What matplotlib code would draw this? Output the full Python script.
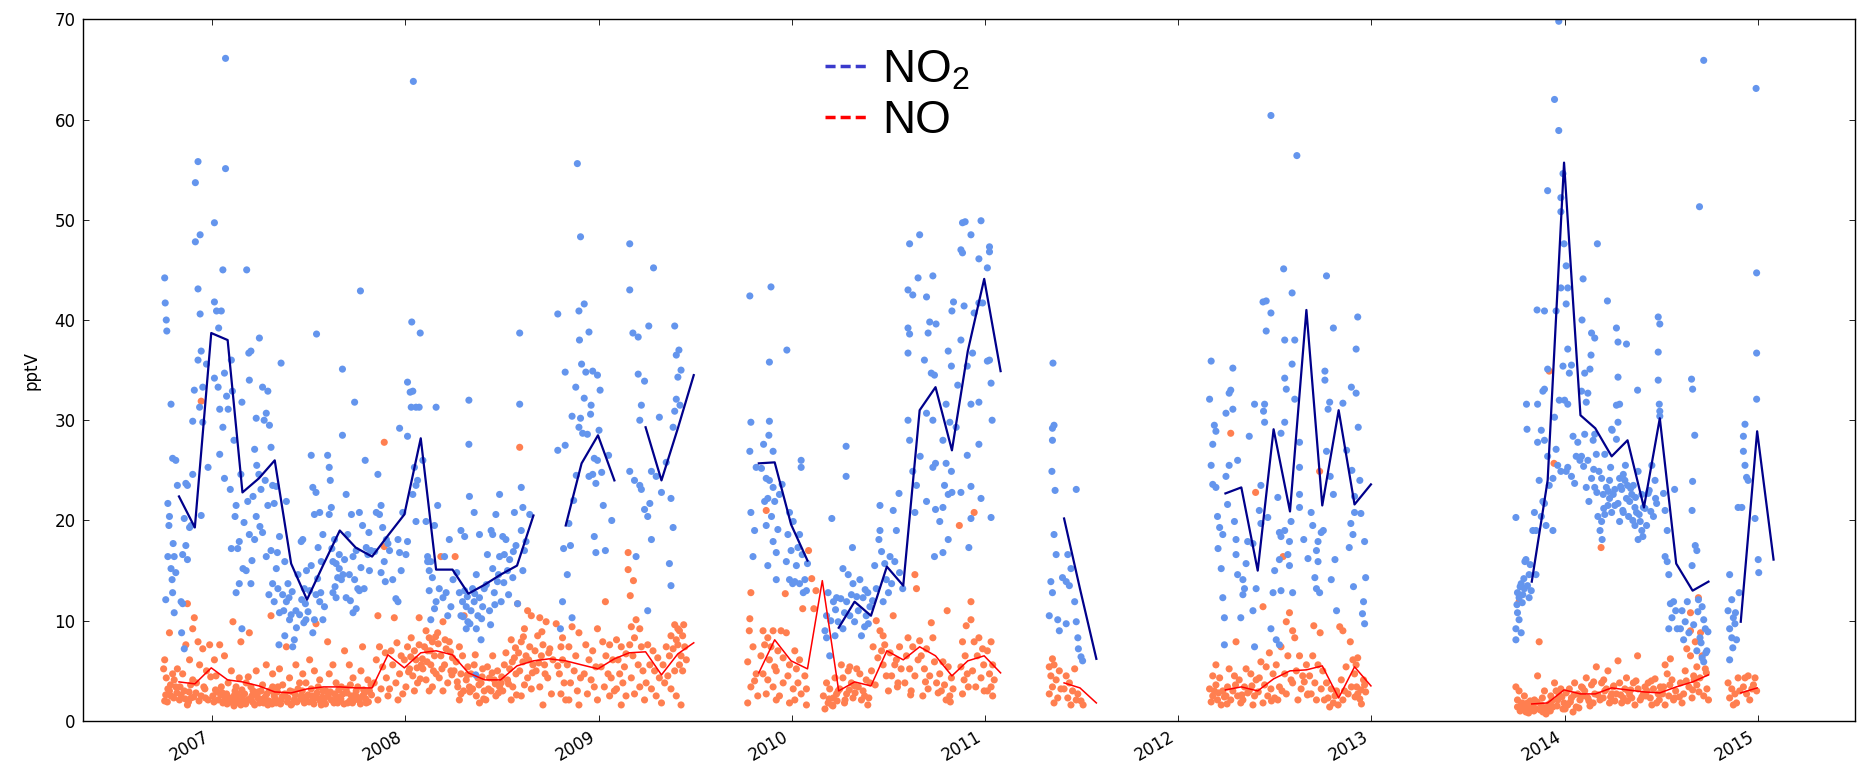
import numpy as np
import pandas as pd
import matplotlib
matplotlib.use('Agg')
import matplotlib.pyplot as plt
import matplotlib.dates as mdates
from matplotlib.lines import Line2D

nan = np.nan

#%% monthly means (plotted at month end), Oct 2006 .. Jan 2015
months = pd.date_range('2006-10-31', '2015-01-31', freq=pd.offsets.MonthEnd())

no2_monthly = [
    22.4, 19.3, 38.7,                                                        # 2006 Oct-Dec
    38.0, 22.8, 24.2, 26.0, 15.7, 12.1, 15.6, 19.0, 17.3, 16.4, 18.5, 20.6,  # 2007
    28.2, 15.1, 15.1, 12.7, 13.6, 14.6, 15.5, 20.5, nan, 19.5, 25.7, 28.5,   # 2008
    24.0, nan, 29.3, 24.0, 29.2, 34.5, nan, nan, nan, 25.7, 25.8, 19.6,      # 2009
    16.0, nan, 9.3, 11.9, 10.5, 15.4, 13.5, 31.0, 33.3, 27.0, 36.9, 44.1,    # 2010
    34.9, nan, nan, nan, 20.2, 13.2, 6.2, nan, nan, nan, nan, nan,           # 2011
    nan, nan, 22.7, 23.3, 15.0, 29.1, 20.9, 41.0, 21.5, 31.0, 21.6, 23.6,    # 2012
    nan, nan, nan, nan, nan, nan, nan, nan, nan, 13.9, 24.0, 55.7,           # 2013
    30.5, 29.2, 26.4, 28.0, 21.3, 30.2, 15.7, 13.0, 13.9, nan, 9.9, 28.9,    # 2014
    16.1,                                                                    # 2015 Jan
]

no_monthly = [
    3.9, 3.7, 5.3,
    4.1, 3.9, 3.5, 2.9, 2.8, 3.2, 3.4, 3.4, 3.3, 3.3, 6.6, 5.3,
    6.8, 7.0, 6.6, 4.8, 4.1, 4.1, 5.5, 6.0, 6.2, 6.0, 5.6, 5.2,
    6.2, 6.8, 6.9, 4.6, 6.7, 7.8, nan, nan, nan, 4.8, 8.1, 6.0,
    5.2, 14.0, 3.0, 3.9, 3.5, 7.0, 6.1, 7.4, 6.5, 4.5, 6.0, 6.5,
    4.8, nan, nan, nan, 3.8, 3.3, 1.8, nan, nan, nan, nan, nan,
    nan, nan, 3.1, 3.4, 3.0, 4.2, 5.0, 5.1, 5.5, 2.3, 5.4, 3.5,
    nan, nan, nan, nan, nan, nan, nan, nan, nan, 1.7, 1.8, 3.1,
    2.7, 2.7, 3.3, 3.1, 2.9, 2.8, 3.4, 3.9, 4.6, nan, 2.8, 3.3,
    nan,
]

#%% NO2 observations (date, pptV)
no2_2006_08 = [
    ("2006-10-04",44.2),("2006-10-05",41.7),("2006-10-07",40.0),("2006-10-08",38.9),("2006-10-16",31.6),
    ("2006-10-19",26.2),("2006-10-25",26.0),("2006-10-10",21.7),("2006-10-13",20.4),("2006-10-12",19.5),
    ("2006-10-20",17.7),("2006-10-10",16.4),("2006-10-22",16.4),("2006-10-16",15.2),("2006-10-25",14.8),
    ("2006-10-18",14.1),("2006-10-06",12.1),("2006-10-19",12.8),("2006-10-22",10.8),("2006-10-28",23.5),
    ("2006-11-04",11.9),("2006-11-07",11.7),("2006-11-05",8.8),("2006-11-10",7.2),("2006-11-13",23.7),
    ("2006-11-16",23.5),("2006-11-10",20.2),("2006-11-20",19.3),("2006-11-23",19.5),("2006-11-26",24.6),
    ("2006-11-13",17.5),("2006-11-16",16.1),("2006-11-07",16.6),("2006-11-26",29.9),("2006-11-29",33.0),
    ("2006-12-01",53.7),("2006-12-06",55.8),("2006-12-01",47.8),("2006-12-10",48.5),("2006-12-06",43.1),
    ("2006-12-10",40.6),("2006-12-12",36.9),("2006-12-06",36.0),("2006-12-15",33.3),("2006-12-09",31.3),
    ("2006-12-15",29.8),("2006-12-12",20.5),("2006-12-22",35.6),("2006-12-25",25.3),
    ("2007-01-06",49.7),("2007-01-27",66.1),("2007-01-27",55.1),("2007-01-22",45.0),("2007-01-06",41.8),
    ("2007-01-10",40.9),("2007-01-19",40.9),("2007-01-14",39.2),("2007-01-06",34.2),("2007-01-13",33.3),
    ("2007-01-16",31.1),("2007-01-25",34.7),("2007-01-29",32.4),("2007-01-22",29.3),("2007-01-16",26.6),
    ("2007-01-25",24.2),("2007-02-01",31.1),
    ("2007-02-07",36.0),("2007-02-09",32.9),("2007-02-12",28.0),("2007-02-16",21.5),("2007-02-14",20.4),
    ("2007-02-22",17.9),("2007-02-19",17.2),("2007-02-07",17.2),("2007-02-05",23.1),("2007-02-27",31.8),
    ("2007-02-25",24.6),("2007-02-22",13.7),("2007-03-01",15.2),("2007-02-16",12.8),
    ("2007-03-08",45.0),("2007-03-12",36.7),("2007-03-16",36.9),("2007-03-13",34.0),("2007-04-01",38.2),
    ("2007-03-26",30.2),("2007-03-23",27.1),("2007-03-27",25.5),("2007-03-31",24.6),("2007-03-10",21.9),
    ("2007-03-20",22.4),("2007-03-26",20.4),("2007-03-13",18.6),("2007-03-23",18.1),("2007-03-07",15.0),
    ("2007-03-16",13.7),("2007-02-27",9.2),
    ("2007-04-07",33.3),("2007-04-17",32.9),("2007-04-14",30.7),("2007-04-10",30.0),("2007-04-20",29.5),
    ("2007-04-23",27.3),("2007-04-12",24.0),("2007-04-26",23.5),("2007-04-04",23.1),("2007-04-17",21.5),
    ("2007-04-29",21.7),("2007-04-07",18.8),("2007-04-23",17.0),("2007-04-14",16.4),("2007-04-26",13.7),
    ("2007-04-29",11.9),
    ("2007-05-12",35.7),("2007-05-03",23.4),("2007-05-22",21.9),("2007-05-09",18.4),("2007-05-03",15.2),
    ("2007-05-19",15.9),("2007-05-25",13.7),("2007-05-06",13.2),("2007-05-15",12.6),("2007-05-22",11.9),
    ("2007-05-28",10.1),("2007-05-31",10.6),("2007-05-19",8.5),("2007-05-09",10.8),("2007-05-08",7.6),
    ("2007-06-03",7.4),("2007-06-06",8.1),("2007-06-09",11.0),("2007-06-16",10.6),("2007-06-22",18.1),
    ("2007-06-19",17.9),("2007-06-28",10.1),("2007-06-25",13.2),("2007-06-13",14.6),("2007-06-29",15.0),
    ("2007-06-27",11.7),
    ("2007-07-18",38.6),("2007-07-11",23.3),("2007-07-17",22.8),("2007-07-24",20.8),("2007-07-14",20.6),
    ("2007-07-21",17.3),("2007-07-30",18.6),("2007-07-27",15.9),("2007-07-17",12.6),("2007-07-24",11.9),
    ("2007-07-30",10.1),("2007-07-14",10.1),("2007-07-11",8.8),("2007-07-05",13.0),("2007-07-08",15.5),
    ("2007-07-08",26.5),
    ("2007-08-08",26.5),("2007-08-11",25.3),("2007-08-15",21.3),("2007-08-21",18.1),("2007-08-18",15.9),
    ("2007-08-24",15.7),("2007-08-30",15.2),("2007-08-27",14.3),("2007-09-03",14.1),("2007-08-11",20.6),
    ("2007-08-18",12.8),("2007-08-30",16.6),("2007-08-24",12.3),("2007-08-13",24.0),
    ("2007-09-05",35.1),("2007-09-05",28.5),("2007-09-28",31.8),("2007-09-12",22.6),("2007-09-22",20.6),
    ("2007-09-15",18.6),("2007-09-25",16.4),("2007-10-01",17.0),("2007-09-18",14.6),("2007-09-28",14.1),
    ("2007-10-04",13.2),("2007-10-01",11.2),("2007-09-25",10.8),("2007-09-12",12.3),("2007-09-06",14.6),
    ("2007-10-09",42.9),("2007-10-18",26.0),("2007-10-07",20.8),("2007-10-13",19.5),("2007-10-20",17.3),
    ("2007-10-23",16.6),("2007-10-29",17.0),("2007-10-26",15.0),("2007-10-16",13.2),("2007-10-07",13.0),
    ("2007-11-11",24.6),("2007-11-17",21.5),("2007-11-14",20.6),("2007-11-20",19.3),("2007-11-27",18.1),
    ("2007-12-03",17.0),("2007-11-23",15.9),("2007-11-17",14.8),("2007-11-30",17.7),("2007-11-08",20.8),
    ("2007-12-22",29.2),("2008-01-06",33.8),("2008-01-11",32.8),("2008-01-06",28.4),("2007-12-19",18.1),
    ("2007-12-22",16.8),("2008-01-03",16.6),("2007-12-25",15.0),("2007-12-09",14.1),("2007-12-19",11.9),
    ("2008-01-06",17.9),("2007-12-15",12.2),("2007-12-28",20.8),
    ("2008-01-17",63.8),("2008-01-14",39.8),("2008-01-30",38.7),("2008-01-16",32.9),("2008-01-22",31.3),
    ("2008-01-28",31.3),("2008-01-13",31.3),("2008-01-19",25.3),("2008-01-22",23.5),("2008-01-25",24.0),
    ("2008-01-16",22.6),("2008-02-04",26.0),("2008-01-22",19.9),
    ("2008-02-29",31.3),("2008-02-10",19.9),("2008-02-13",15.9),("2008-02-16",15.0),("2008-02-19",15.9),
    ("2008-02-22",14.3),("2008-02-16",13.0),("2008-03-03",21.5),("2008-02-26",19.5),("2008-02-29",11.9),
    ("2008-02-19",10.1),("2008-02-26",11.2),("2008-02-13",16.4),
    ("2008-03-19",12.8),("2008-03-25",18.1),("2008-03-13",12.3),("2008-04-01",14.1),("2008-03-06",13.2),
    ("2008-03-28",11.4),("2008-03-16",16.4),("2008-03-22",10.5),
    ("2008-05-01",32.0),("2008-05-01",27.6),("2008-04-16",19.0),("2008-04-23",18.4),("2008-04-13",12.8),
    ("2008-04-19",11.9),("2008-04-26",11.4),("2008-04-16",10.5),("2008-04-29",9.9),("2008-04-23",13.0),
    ("2008-05-02",22.4),("2008-04-26",9.2),("2008-05-05",11.0),
    ("2008-05-11",20.8),("2008-05-21",18.6),("2008-05-15",14.6),("2008-05-08",13.2),("2008-05-21",12.3),
    ("2008-05-24",8.1),("2008-05-18",10.5),("2008-05-27",11.4),("2008-05-30",13.2),("2008-05-11",11.9),
    ("2008-05-15",9.2),("2008-05-14",4.6),
    ("2008-06-12",19.0),("2008-06-15",18.6),("2008-06-28",22.6),("2008-06-21",20.6),("2008-06-05",16.6),
    ("2008-06-15",15.2),("2008-06-24",13.9),("2008-07-01",11.9),("2008-06-09",11.0),("2008-06-18",12.8),
    ("2008-06-28",16.4),
    ("2008-07-10",18.1),("2008-07-07",16.6),("2008-07-17",16.1),("2008-07-23",14.3),("2008-07-13",15.0),
    ("2008-08-01",11.7),("2008-07-29",17.5),("2008-07-04",18.4),("2008-07-26",20.8),
    ("2008-08-05",38.7),("2008-08-05",31.6),("2008-08-08",23.3),("2008-08-11",21.3),("2008-08-17",17.9),
    ("2008-08-14",17.0),("2008-08-24",20.6),("2008-08-11",15.0),("2008-08-08",19.0),
    ("2007-03-03",19.8),("2007-03-18",16.0),("2007-04-02",19.4),("2007-04-19",12.6),("2007-05-05",16.8),
    ("2007-05-17",11.0),("2007-05-27",12.3),("2007-06-02",12.9),("2007-06-10",9.3),("2007-06-20",12.1),
    ("2007-06-24",9.8),("2007-07-02",10.9),("2007-07-20",14.2),("2007-07-26",12.8),("2007-08-02",11.4),
    ("2007-08-16",17.2),("2007-08-22",13.4),("2007-09-09",16.1),("2007-09-20",12.0),("2007-10-10",15.3),
    ("2007-10-25",18.8),("2007-11-05",16.9),("2007-11-25",13.9),
    ("2008-04-08",14.8),("2008-04-20",10.4),("2008-04-28",12.4),("2008-05-03",9.7),("2008-05-12",12.7),
    ("2008-05-25",10.2),("2008-06-03",13.6),("2008-06-11",9.6),("2008-06-19",11.6),("2008-06-26",14.6),
    ("2008-07-06",13.8),("2008-07-15",12.6),("2008-07-24",16.9),
]

no2_2008_09 = [
    ("2008-10-16",40.6),("2008-10-16",27.0),("2008-10-21",9.2),("2008-10-25",11.9),("2008-10-30",27.5),
    ("2008-10-30",34.8),("2008-10-27",17.2),
    ("2008-11-03",14.6),("2008-11-06",19.7),("2008-11-09",17.5),("2008-11-12",10.3),("2008-11-12",30.4),
    ("2008-11-19",33.3),("2008-11-22",55.6),("2008-11-28",48.3),("2008-11-25",40.9),("2008-11-26",38.0),
    ("2008-11-25",29.3),("2008-11-28",30.2),("2008-11-20",24.5),("2008-11-15",22.0),
    ("2008-12-05",41.6),("2008-12-14",38.8),("2008-12-08",34.8),("2008-12-21",34.9),("2008-12-30",34.5),
    ("2008-12-05",32.2),("2008-12-18",31.5),("2008-12-02",28.7),("2008-12-24",26.2),("2008-12-30",26.0),
    ("2008-12-21",24.6),("2008-12-14",24.4),("2008-12-27",23.7),("2008-12-24",18.4),("2008-12-27",16.8),
    ("2009-01-04",33.0),("2009-01-07",24.8),("2009-01-10",21.5),("2009-01-14",17.0),("2009-01-20",26.5),
    ("2009-01-26",20.0),
    ("2009-03-01",47.6),("2009-03-01",43.0),("2009-03-07",38.7),("2009-03-17",38.3),("2009-03-17",34.6),
    ("2009-03-29",33.9),("2009-03-23",31.5),("2009-03-20",30.0),("2009-03-01",24.9),("2009-03-10",24.0),
    ("2009-03-20",23.5),("2009-03-23",23.1),("2009-03-13",16.4),
    ("2009-04-06",39.4),("2009-04-15",45.2),("2009-04-08",21.7),("2009-03-29",21.1),("2009-04-04",20.4),
    ("2009-04-11",18.1),("2009-04-04",11.0),("2009-04-26",30.3),("2009-04-30",22.8),("2009-04-11",24.9),
    ("2009-04-20",24.4),
    ("2009-05-25",39.4),("2009-05-28",36.5),("2009-05-31",34.3),("2009-05-28",32.1),("2009-05-25",30.9),
    ("2009-05-22",29.3),("2009-05-18",22.2),("2009-05-22",19.3),("2009-05-15",15.7),("2009-05-18",13.5),
    ("2009-05-09",25.8),
    ("2009-06-02",37.0),("2009-06-04",31.5),("2009-06-06",35.0),
    ("2008-12-11",28.6),("2008-12-17",30.6),("2008-11-30",35.6),("2009-01-02",29.0),
]

no2_2009_11 = [
    ("2009-10-14",42.4),("2009-10-16",29.8),("2009-10-14",26.9),("2009-10-16",20.8),("2009-10-20",16.4),
    ("2009-10-26",25.3),("2009-10-23",19.0),
    ("2009-11-23",43.3),("2009-11-20",35.8),("2009-11-20",29.9),("2009-11-19",28.5),("2009-11-09",27.6),
    ("2009-11-27",26.9),("2009-11-14",24.2),("2009-11-20",24.0),("2009-11-27",23.3),("2009-11-11",21.9),
    ("2009-11-17",22.2),("2009-11-30",21.9),("2009-11-14",19.5),("2009-11-27",17.9),("2009-12-03",16.8),
    ("2009-11-17",15.5),("2009-12-03",14.1),
    ("2009-12-23",37.0),("2009-12-28",20.8),("2010-01-04",19.9),("2009-12-25",18.6),("2009-12-31",17.0),
    ("2009-12-22",15.9),("2009-12-28",14.1),("2010-01-03",13.7),("2010-01-19",26.0),("2010-01-19",25.3),
    ("2010-01-16",18.6),("2009-12-09",22.6),
    ("2010-01-10",15.5),("2010-01-07",13.9),("2010-01-16",13.7),("2010-01-23",12.8),("2010-01-26",14.1),
    ("2010-01-29",13.0),("2010-01-31",15.7),("2010-01-13",17.3),
    ("2010-03-18",20.2),("2010-03-05",9.0),("2010-03-08",8.3),("2010-03-14",6.5),("2010-03-21",11.9),
    ("2010-03-27",12.3),("2010-03-30",9.9),("2010-03-08",10.5),("2010-03-24",8.5),("2010-03-11",12.8),
    ("2010-04-14",27.4),("2010-04-14",24.4),("2010-04-26",17.3),("2010-04-08",15.2),("2010-04-18",14.6),
    ("2010-04-27",13.7),("2010-04-15",11.9),("2010-04-21",10.5),("2010-04-30",9.9),("2010-04-08",9.2),
    ("2010-05-10",14.1),("2010-05-16",12.3),("2010-05-22",10.5),("2010-05-07",11.0),("2010-05-29",11.4),
    ("2010-05-19",9.4),("2010-05-13",8.5),("2010-05-25",12.8),
    ("2010-06-17",21.5),("2010-06-17",19.0),("2010-06-15",18.1),("2010-06-29",14.1),("2010-06-23",11.9),
    ("2010-06-10",13.2),("2010-06-26",15.7),("2010-06-07",15.5),
    ("2010-07-23",22.7),("2010-07-12",21.0),("2010-07-18",19.0),("2010-07-06",16.4),("2010-07-15",15.9),
    ("2010-07-24",14.8),("2010-07-09",13.7),("2010-07-30",13.2),("2010-07-03",12.8),
    ("2010-08-12",47.6),("2010-08-31",48.5),("2010-08-28",44.2),("2010-08-09",43.0),("2010-08-18",42.5),
    ("2010-08-09",39.2),("2010-08-12",38.6),("2010-08-09",36.7),("2010-08-09",30.0),("2010-08-12",28.0),
    ("2010-08-25",23.5),("2010-08-22",20.8),("2010-08-18",24.9),
    ("2010-09-25",44.4),("2010-09-13",42.3),("2010-09-19",39.8),("2010-10-01",39.6),("2010-09-16",38.7),
    ("2010-09-09",36.0),("2010-09-22",34.7),("2010-09-28",34.5),("2010-09-13",30.7),("2010-09-25",30.0),
    ("2010-09-01",26.4),("2010-09-30",25.7),("2010-09-25",25.3),("2010-09-13",21.9),("2010-09-30",21.1),
    ("2010-09-28",16.4),
    ("2010-10-31",40.9),("2010-11-03",41.8),("2010-10-24",36.9),("2010-10-30",35.4),("2010-10-20",31.6),
    ("2010-10-27",29.8),("2010-10-14",28.0),("2010-10-20",25.7),("2010-10-30",24.9),("2010-10-17",23.5),
    ("2010-10-24",22.6),("2010-10-31",22.8),("2010-10-14",21.3),("2010-10-24",18.1),("2010-10-14",16.8),
    ("2010-10-08",19.9),
    ("2010-11-20",49.7),("2010-11-25",49.8),("2010-11-17",47.0),("2010-11-20",46.7),("2010-11-23",41.4),
    ("2010-11-17",38.0),("2010-11-29",35.4),("2010-11-29",26.5),("2010-11-17",22.8),("2010-12-02",17.3),
    ("2010-11-08",29.3),("2010-11-11",33.5),
    ("2010-12-06",48.5),("2010-12-25",49.9),("2010-12-21",46.1),("2010-12-12",40.7),("2010-12-21",41.7),
    ("2010-12-28",41.7),("2010-12-09",36.7),("2010-12-06",31.6),("2010-12-21",31.8),("2010-12-21",27.6),
    ("2010-12-06",23.4),("2010-12-25",22.2),("2010-12-06",20.2),
    ("2011-01-10",47.3),("2011-01-10",46.8),("2011-01-06",45.2),("2011-01-10",36.0),("2011-01-06",35.9),
    ("2011-01-13",33.7),("2011-01-15",30.0),("2011-01-13",20.3),
    ("2009-11-05",25.2),("2009-11-24",20.4),("2009-12-06",19.1),("2009-12-14",23.6),("2010-01-21",16.6),
    ("2010-03-16",10.0),("2010-03-25",11.1),("2010-04-04",12.2),("2010-04-11",10.8),("2010-04-24",12.6),
    ("2010-05-04",12.4),("2010-05-20",13.1),("2010-05-26",9.7),("2010-06-03",12.0),("2010-06-20",16.9),
]

no2_2011 = [
    ("2011-05-10",35.7),("2011-05-12",29.5),("2011-05-09",29.2),("2011-05-09",28.0),("2011-05-08",24.9),
    ("2011-05-14",23.0),("2011-05-12",18.6),("2011-05-16",16.6),("2011-05-06",13.9),("2011-05-09",12.8),
    ("2011-05-03",10.5),("2011-05-19",10.1),("2011-05-22",9.0),("2011-05-28",14.3),
    ("2011-06-04",13.9),("2011-06-10",13.5),("2011-06-13",15.2),("2011-06-20",11.9),("2011-06-23",9.9),
    ("2011-06-26",8.3),("2011-06-27",7.2),("2011-06-04",9.7),("2011-06-07",16.6),("2011-06-23",23.1),
    ("2011-07-02",6.4),("2011-07-05",6.0),
]

no2_2012 = [
    ("2012-03-04",35.9),("2012-03-01",32.1),("2012-03-10",29.5),("2012-03-13",28.9),("2012-03-07",27.6),
    ("2012-03-04",25.5),("2012-03-07",23.6),("2012-03-13",23.3),("2012-03-16",20.4),("2012-03-20",19.3),
    ("2012-03-26",18.6),("2012-03-23",15.2),("2012-03-26",12.3),("2012-03-29",10.3),("2012-03-29",7.6),
    ("2012-04-07",32.7),("2012-04-10",33.0),("2012-04-01",30.7),("2012-04-14",31.1),("2012-04-14",35.2),
    ("2012-04-07",25.5),("2012-04-23",26.0),("2012-04-01",24.4),("2012-04-17",19.9),("2012-04-20",18.1),
    ("2012-04-20",16.6),("2012-04-23",14.6),("2012-04-29",10.3),
    ("2012-05-03",14.1),("2012-05-06",13.2),("2012-05-03",12.6),("2012-05-15",28.4),("2012-05-25",31.6),
    ("2012-05-22",17.7),("2012-05-28",13.2),("2012-05-22",11.0),("2012-05-25",7.4),("2012-05-09",15.7),
    ("2012-06-13",31.6),("2012-06-11",30.9),("2012-06-13",29.8),("2012-06-06",23.5),("2012-06-03",21.0),
    ("2012-06-06",19.7),("2012-06-10",41.8),("2012-06-16",41.9),("2012-06-25",40.7),("2012-06-16",38.9),
    ("2012-06-25",60.4),("2012-07-02",15.0),("2012-06-29",12.8),("2012-06-25",9.2),
    ("2012-07-19",45.1),("2012-07-21",38.0),("2012-07-21",34.2),("2012-07-24",33.1),("2012-07-14",28.7),
    ("2012-07-21",29.8),("2012-08-02",19.9),("2012-07-21",19.0),("2012-07-11",18.8),("2012-07-14",18.4),
    ("2012-07-30",17.9),("2012-07-11",16.1),("2012-07-27",16.6),("2012-07-14",13.0),("2012-07-30",15.5),
    ("2012-07-05",8.1),("2012-07-11",7.6),
    ("2012-08-13",56.4),("2012-08-04",42.7),("2012-08-09",38.0),("2012-08-04",35.6),("2012-08-09",32.1),
    ("2012-08-18",27.8),("2012-08-18",25.3),("2012-08-18",22.6),("2012-08-18",21.3),("2012-08-05",12.8),
    ("2012-09-09",20.8),("2012-09-28",18.8),("2012-09-22",17.9),("2012-09-19",17.0),("2012-09-22",15.9),
    ("2012-09-16",14.3),("2012-09-19",13.2),("2012-09-25",12.8),("2012-09-12",19.5),
    ("2012-10-08",44.4),("2012-10-21",39.2),("2012-10-05",34.9),("2012-10-05",34.0),("2012-10-14",31.8),
    ("2012-10-11",31.1),("2012-10-08",26.9),("2012-10-27",11.0),("2012-10-24",16.1),("2012-10-21",22.6),
    ("2012-10-02",19.0),("2012-10-17",14.1),
    ("2012-11-24",33.3),("2012-11-30",20.8),("2012-11-27",18.6),("2012-11-30",22.4),("2012-11-08",31.7),
    ("2012-11-23",19.7),("2012-11-25",25.0),("2012-11-28",13.4),("2012-11-15",27.0),
    ("2012-12-03",37.1),("2012-12-03",32.7),("2012-12-07",29.3),("2012-12-06",40.3),("2012-12-19",17.9),
    ("2012-12-21",14.3),("2012-12-17",11.9),("2012-12-15",10.7),("2012-12-19",9.7),("2012-12-10",24.0),
    ("2012-03-17",17.2),("2012-04-04",21.6),("2012-05-12",17.9),("2012-06-19",20.3),("2012-07-08",22.3),
    ("2012-08-26",18.1),("2012-09-03",16.2),("2012-10-15",24.4),("2012-11-20",17.3),("2012-12-12",20.7),
]

no2_2013_15 = [
    ("2013-10-01",20.3),("2013-10-21",31.6),("2013-10-22",29.1),("2013-10-20",16.1),("2013-10-18",15.9),
    ("2013-10-11",13.7),("2013-10-17",13.2),("2013-10-04",12.8),("2013-10-07",12.3),("2013-10-14",12.6),
    ("2013-10-23",13.5),("2013-10-30",13.0),("2013-10-26",12.3),("2013-10-04",10.8),("2013-10-07",10.1),
    ("2013-10-01",9.2),("2013-10-01",8.1),("2013-10-11",8.8),("2013-10-26",14.6),
    ("2013-11-10",41.0),("2013-11-24",40.9),("2013-11-11",31.6),("2013-11-21",32.9),("2013-11-24",33.1),
    ("2013-11-18",29.0),("2013-11-24",28.0),("2013-11-30",26.4),("2013-11-11",27.8),("2013-11-14",24.0),
    ("2013-11-21",21.9),("2013-11-24",21.7),("2013-11-18",20.4),("2013-11-08",19.0),("2013-11-27",19.5),
    ("2013-11-05",20.8),("2013-11-02",19.0),("2013-11-08",14.6),("2013-11-30",52.9),("2013-11-30",35.1),
    ("2013-12-13",62.0),("2013-12-21",58.9),("2013-12-25",52.2),("2013-12-29",54.6),("2013-12-25",50.8),
    ("2013-12-31",47.6),("2013-12-25",43.2),("2013-12-16",40.9),("2013-12-13",30.3),("2013-12-16",27.1),
    ("2013-12-19",25.5),("2013-12-25",24.9),("2013-12-10",24.2),("2013-12-22",32.0),("2013-12-03",23.5),
    ("2013-12-10",19.0),("2013-12-21",69.8),
    ("2014-01-04",45.4),("2014-01-07",43.2),("2014-01-04",41.6),("2014-01-07",37.1),("2013-12-29",35.4),
    ("2014-01-14",35.5),("2014-01-10",34.7),("2014-01-01",32.0),("2014-01-07",31.6),("2014-01-17",28.4),
    ("2014-01-23",26.4),("2014-01-07",25.3),("2014-01-04",24.9),("2014-01-14",24.4),("2014-01-20",23.7),
    ("2014-01-26",27.8),("2014-01-30",26.0),
    ("2014-02-02",32.9),("2014-02-08",34.7),("2014-02-18",35.1),("2014-02-14",32.7),("2014-02-05",44.1),
    ("2014-02-03",40.0),("2014-03-04",47.6),("2014-02-21",38.7),("2014-02-20",36.5),("2014-02-27",38.2),
    ("2014-02-11",31.8),("2014-02-27",28.6),("2014-02-08",28.6),("2014-02-24",28.0),("2014-02-02",26.4),
    ("2014-02-14",26.0),("2014-02-21",24.2),("2014-03-02",26.6),("2014-02-11",23.3),("2014-02-27",23.3),
    ("2014-03-23",41.9),("2014-03-31",29.1),("2014-03-18",26.6),("2014-03-12",24.2),("2014-03-27",24.0),
    ("2014-03-21",23.3),("2014-03-15",22.6),("2014-03-27",22.2),("2014-03-24",21.5),("2014-03-31",20.8),
    ("2014-03-18",20.6),("2014-03-12",19.9),("2014-03-09",19.0),("2014-04-06",23.1),("2014-03-05",20.4),
    ("2014-03-13",18.1),
    ("2014-04-09",39.2),("2014-04-12",37.8),("2014-04-28",37.6),("2014-04-12",34.3),("2014-04-15",31.6),
    ("2014-04-09",31.5),("2014-04-12",29.8),("2014-04-01",29.0),("2014-04-09",28.1),("2014-04-22",24.6),
    ("2014-04-15",24.2),("2014-04-25",24.0),("2014-04-30",23.5),("2014-04-19",23.1),("2014-04-12",21.7),
    ("2014-04-28",22.2),("2014-04-06",21.5),("2014-04-22",20.8),("2014-04-15",19.9),
    ("2014-05-19",33.0),("2014-05-08",22.6),("2014-05-14",21.3),("2014-05-17",20.8),("2014-05-24",19.9),
    ("2014-05-27",19.0),("2014-05-20",18.1),("2014-05-14",19.5),("2014-05-30",21.3),("2014-05-04",21.9),
    ("2014-05-11",23.5),("2014-05-20",24.9),("2014-05-27",22.6),
    ("2014-06-27",40.3),("2014-06-30",39.6),("2014-06-27",36.8),("2014-06-27",34.0),("2014-06-29",31.6),
    ("2014-06-30",30.9),("2014-06-30",30.4),("2014-06-08",22.7),("2014-06-15",25.5),("2014-06-21",24.0),
    ("2014-06-24",21.7),("2014-06-18",20.4),
    ("2014-07-07",22.7),("2014-07-28",23.1),("2014-07-10",21.0),("2014-07-14",19.0),("2014-07-10",16.4),
    ("2014-07-14",15.9),("2014-07-17",14.6),("2014-07-20",11.7),("2014-07-26",11.9),("2014-07-30",11.0),
    ("2014-07-23",10.3),("2014-07-17",9.2),("2014-08-02",9.2),
    ("2014-08-29",34.1),("2014-08-31",33.1),("2014-09-04",28.5),("2014-08-31",23.9),("2014-08-30",21.0),
    ("2014-08-11",11.0),("2014-08-17",9.9),("2014-08-08",9.2),("2014-08-24",8.8),("2014-08-14",8.1),
    ("2014-08-30",15.5),("2014-08-21",11.9),
    ("2014-09-21",65.9),("2014-09-13",51.3),("2014-09-05",17.5),("2014-09-08",17.0),("2014-09-11",12.1),
    ("2014-09-18",11.4),("2014-09-21",10.1),("2014-09-24",9.2),("2014-09-14",8.3),("2014-09-08",7.0),
    ("2014-09-18",6.3),("2014-09-21",5.9),("2014-09-27",7.0),
    ("2014-11-09",14.6),("2014-11-13",12.1),("2014-11-16",10.3),("2014-11-09",9.2),("2014-11-19",9.7),
    ("2014-11-13",8.3),("2014-11-22",8.1),("2014-11-09",6.1),("2014-11-25",21.3),
    ("2014-12-08",29.6),("2014-12-05",28.4),("2014-12-05",26.9),("2014-12-08",25.5),("2014-12-11",24.3),
    ("2014-12-14",24.0),("2014-12-29",63.1),("2014-12-30",44.7),("2014-12-30",36.7),("2014-12-30",32.1),
    ("2014-12-27",20.2),("2014-12-02",21.3),
    ("2015-01-02",16.1),("2015-01-03",14.8),
    ("2013-10-03",11.6),("2013-10-09",13.4),("2013-10-13",11.8),("2013-10-16",14.2),("2013-10-28",15.6),
    ("2014-02-06",25.4),("2014-02-16",21.9),("2014-02-25",25.1),("2014-03-03",22.8),("2014-03-07",24.9),
    ("2014-03-16",21.2),("2014-03-25",22.9),("2014-03-29",25.3),("2014-04-03",22.6),("2014-04-17",23.4),
    ("2014-04-21",21.0),("2014-04-26",25.5),("2014-05-02",20.4),("2014-05-06",23.2),("2014-05-10",20.0),
    ("2014-05-15",22.3),("2014-05-22",20.6),("2014-05-29",18.4),("2014-06-02",21.2),("2014-06-05",19.5),
    ("2014-06-10",23.0),("2014-06-13",20.9),("2014-06-22",22.2),
    ("2014-09-02",9.6),("2014-09-10",10.9),("2014-09-16",7.8),("2014-09-25",6.8),("2014-09-29",8.9),
    ("2014-11-06",11.0),("2014-11-15",7.3),("2014-11-20",10.8),("2014-11-27",12.8),
]

#%% NO observations (date, pptV)
no_2006_08 = [
    ("2006-10-04",6.1),("2006-10-02",5.2),("2006-10-07",4.3),("2006-10-13",3.0),("2006-10-04",2.0),
    ("2006-10-16",2.5),("2006-10-22",4.1),("2006-10-25",3.4),("2006-10-28",5.2),("2006-10-13",8.8),
    ("2006-10-19",4.7),("2006-10-10",3.2),
    ("2006-11-16",11.7),("2006-11-29",10.3),("2006-11-26",9.2),("2006-11-13",7.6),("2006-11-20",6.1),
    ("2006-11-07",4.7),("2006-11-26",4.1),("2006-11-10",3.0),("2006-11-23",2.3),("2006-11-01",2.1),
    ("2006-11-16",1.6),("2006-11-04",2.6),("2006-11-19",2.9),("2006-11-22",3.6),("2006-11-28",2.4),
    ("2006-12-12",31.9),("2006-12-06",7.9),("2006-12-15",7.2),("2006-12-28",7.6),("2006-12-09",5.6),
    ("2006-12-22",5.0),("2006-12-03",3.8),("2006-12-19",3.2),("2006-12-25",2.1),("2006-12-12",2.5),
    ("2006-12-30",4.4),
    ("2007-01-16",7.6),("2007-01-06",6.1),("2007-01-25",6.5),("2007-01-09",4.5),("2007-01-19",3.4),
    ("2007-01-29",2.7),("2007-01-13",2.1),("2007-01-22",1.8),("2007-01-03",2.5),("2007-02-01",3.8),
    ("2007-01-11",2.9),("2007-01-27",2.3),
    ("2007-02-10",9.9),("2007-02-25",7.9),("2007-02-07",5.0),("2007-02-22",4.3),("2007-02-14",3.0),
    ("2007-02-04",2.3),("2007-02-19",2.1),("2007-02-28",2.5),("2007-02-25",1.6),("2007-02-10",1.8),
    ("2007-02-16",3.4),("2007-02-13",2.6),
    ("2007-03-13",8.8),("2007-03-26",5.0),("2007-03-07",3.8),("2007-03-20",3.0),("2007-03-29",2.3),
    ("2007-03-10",2.1),("2007-03-23",1.6),("2007-03-16",3.4),("2007-03-04",2.7),("2007-04-01",1.8),
    ("2007-03-18",2.5),("2007-03-11",4.4),
    ("2007-04-23",10.5),("2007-04-14",5.6),("2007-04-26",4.7),("2007-04-07",3.6),("2007-04-20",3.0),
    ("2007-04-10",2.1),("2007-04-29",2.5),("2007-04-17",1.6),("2007-04-04",3.0),("2007-04-26",3.4),
    ("2007-04-12",2.4),("2007-04-22",1.9),
    ("2007-05-22",7.4),("2007-05-09",5.2),("2007-05-28",4.3),("2007-05-06",3.4),("2007-05-19",2.7),
    ("2007-05-12",2.1),("2007-05-25",2.3),("2007-05-03",1.8),("2007-05-15",3.6),("2007-05-31",1.6),
    ("2007-05-17",2.5),
    ("2007-06-09",5.6),("2007-06-22",4.7),("2007-06-28",3.8),("2007-06-13",3.2),("2007-06-19",2.5),
    ("2007-06-25",1.8),("2007-06-06",2.1),("2007-06-16",3.8),("2007-06-03",2.9),("2007-06-27",2.4),
    ("2007-07-17",9.7),("2007-07-05",6.1),("2007-07-14",5.0),("2007-07-24",4.1),("2007-07-08",3.2),
    ("2007-07-30",3.0),("2007-07-17",2.3),("2007-07-27",1.6),("2007-07-11",2.1),("2007-07-21",3.4),
    ("2007-07-02",2.6),
    ("2007-08-08",7.9),("2007-08-18",5.6),("2007-08-11",4.7),("2007-08-24",3.8),("2007-08-05",3.0),
    ("2007-08-21",2.7),("2007-08-15",2.1),("2007-08-27",1.8),("2007-09-03",3.4),("2007-08-30",2.4),
    ("2007-08-02",2.2),
    ("2007-09-09",7.0),("2007-09-18",5.6),("2007-09-25",4.3),("2007-09-12",3.2),("2007-09-22",2.5),
    ("2007-10-01",3.0),("2007-09-15",1.8),("2007-09-28",2.1),("2007-09-06",2.7),("2007-09-20",3.6),
    ("2007-10-13",7.4),("2007-10-10",5.0),("2007-10-23",4.1),("2007-10-04",3.4),("2007-10-13",2.5),
    ("2007-10-26",3.0),("2007-10-20",1.8),("2007-10-07",2.1),("2007-10-29",3.6),("2007-10-17",2.8),
    ("2007-11-23",27.8),("2007-11-23",17.4),("2007-11-11",10.5),("2007-11-14",7.4),("2007-11-08",6.1),
    ("2007-11-20",5.4),("2007-11-27",4.3),("2007-11-04",3.8),("2007-11-17",3.2),("2007-11-30",2.5),
    ("2007-11-11",2.1),("2007-11-25",6.8),
    ("2007-12-12",10.3),("2007-12-06",7.0),("2007-12-25",6.5),("2007-12-09",5.6),("2007-12-22",4.7),
    ("2007-12-31",6.1),("2007-12-15",3.8),("2007-12-03",3.2),("2007-12-28",2.7),("2007-12-19",2.1),
    ("2007-12-17",7.8),
    ("2008-01-06",7.4),("2008-01-13",8.3),("2008-01-19",7.0),("2008-01-22",6.1),("2008-01-28",7.6),
    ("2008-01-10",5.2),("2008-01-16",4.5),("2008-01-25",3.8),("2008-01-03",3.4),("2008-02-01",5.6),
    ("2008-01-19",3.0),("2008-01-28",10.3),
    ("2008-02-10",9.0),("2008-02-16",8.3),("2008-02-22",7.9),("2008-02-07",7.4),("2008-02-13",7.0),
    ("2008-02-26",6.5),("2008-02-19",5.6),("2008-02-04",5.2),("2008-02-29",4.7),("2008-02-10",4.1),
    ("2008-02-22",3.4),("2008-02-16",3.0),
    ("2008-03-09",16.4),("2008-03-13",9.9),("2008-03-03",8.8),("2008-03-25",7.9),("2008-03-19",7.2),
    ("2008-03-09",6.5),("2008-03-31",6.3),("2008-03-16",5.6),("2008-03-28",5.0),("2008-03-06",4.3),
    ("2008-03-22",3.8),("2008-03-13",3.0),
    ("2008-04-05",16.4),("2008-04-13",7.4),("2008-04-19",6.5),("2008-04-07",5.9),("2008-04-29",5.4),
    ("2008-04-16",4.7),("2008-04-26",4.1),("2008-04-10",3.4),("2008-04-16",2.7),("2008-05-02",3.4),
    ("2008-04-13",2.1),("2008-04-22",10.5),
    ("2008-05-11",5.6),("2008-05-27",5.2),("2008-05-05",4.7),("2008-05-18",4.3),("2008-05-24",3.8),
    ("2008-05-08",3.2),("2008-05-30",3.0),("2008-05-15",2.5),("2008-05-21",1.8),("2008-05-13",6.6),
    ("2008-06-15",6.5),("2008-06-05",5.4),("2008-06-24",5.0),("2008-06-09",4.3),("2008-06-18",4.1),
    ("2008-06-28",3.4),("2008-06-12",3.0),("2008-06-21",2.5),("2008-06-02",2.1),("2008-07-01",3.8),
    ("2008-08-01",11.7),("2008-07-20",8.1),("2008-07-10",6.8),("2008-07-26",6.3),("2008-07-07",5.6),
    ("2008-07-17",5.2),("2008-07-29",4.7),("2008-07-13",4.1),("2008-07-23",3.4),("2008-07-04",3.0),
    ("2008-07-30",2.6),("2008-07-20",2.1),
    ("2008-08-05",27.3),("2008-08-20",11.0),("2008-08-27",10.5),("2008-08-14",9.2),("2008-08-08",7.9),
    ("2008-08-24",7.4),("2008-08-17",6.5),("2008-08-11",5.9),("2008-08-30",5.6),("2008-08-05",5.0),
    ("2008-08-20",4.3),("2008-08-14",3.6),("2008-08-27",3.2),("2008-08-08",2.5),
    ("2008-09-12",10.3),("2008-09-24",9.9),("2008-09-08",8.5),("2008-09-18",7.6),("2008-10-01",7.2),
    ("2008-09-15",6.5),("2008-10-07",6.1),("2008-09-21",5.6),("2008-09-05",5.0),("2008-09-27",4.3),
    ("2008-09-12",3.4),("2008-10-04",2.7),("2008-09-18",1.6),("2008-10-13",9.7),
    ("2006-10-06",2.6),("2006-10-09",1.9),("2006-10-15",3.6),("2006-10-21",2.3),("2006-10-27",2.8),
    ("2006-11-02",3.4),("2006-11-12",2.2),("2006-11-18",1.9),("2006-12-02",2.8),("2006-12-08",2.0),
    ("2006-12-17",3.4),("2006-12-20",2.3),
    ("2007-01-05",1.9),("2007-01-18",2.6),("2007-01-24",2.0),("2007-01-30",1.7),("2007-01-08",3.1),
    ("2007-01-21",2.8),("2007-02-03",1.9),("2007-02-08",2.2),("2007-02-18",2.7),("2007-02-21",1.8),
    ("2007-02-27",3.1),("2007-02-12",1.5),("2007-03-02",2.0),("2007-03-06",1.7),("2007-03-14",2.2),
    ("2007-03-19",1.9),("2007-03-25",2.6),("2007-03-30",2.9),("2007-04-02",2.2),("2007-04-09",1.8),
    ("2007-04-15",2.7),("2007-04-19",2.0),("2007-04-25",1.7),("2007-04-28",2.9),("2007-05-01",2.2),
    ("2007-05-05",2.9),("2007-05-11",1.7),("2007-05-14",2.4),("2007-05-24",1.9),("2007-05-29",3.0),
    ("2007-06-01",1.7),("2007-06-08",2.6),("2007-06-11",1.9),("2007-06-18",2.2),("2007-06-21",3.0),
    ("2007-06-30",2.0),("2007-07-04",1.9),("2007-07-10",2.5),("2007-07-13",1.7),("2007-07-19",2.8),
    ("2007-07-25",2.0),("2007-07-29",2.4),("2007-08-04",1.7),("2007-08-09",2.5),("2007-08-13",2.9),
    ("2007-08-20",1.8),("2007-08-25",2.3),("2007-08-29",3.1),("2007-09-02",2.2),("2007-09-08",1.7),
    ("2007-09-14",2.8),("2007-09-19",2.0),("2007-09-24",1.8),("2007-09-29",2.6),("2007-10-02",2.4),
    ("2007-10-09",1.7),("2007-10-15",3.1),("2007-10-19",2.2),("2007-10-24",1.9),("2007-10-30",2.6),
    ("2008-01-08",4.9),("2008-01-12",6.4),("2008-01-24",5.3),("2008-01-30",4.2),("2008-02-03",6.2),
    ("2008-02-12",5.9),("2008-02-18",7.0),("2008-02-24",5.0),("2008-02-28",8.4),("2008-03-04",7.7),
    ("2008-03-11",5.2),("2008-03-17",8.1),("2008-03-27",6.9),("2008-03-30",4.6),("2008-04-03",5.0),
    ("2008-04-09",3.9),("2008-04-21",3.0),("2008-04-28",4.6),("2008-05-03",2.9),("2008-05-20",3.6),
    ("2008-05-26",4.4),("2008-05-29",2.2),("2008-06-07",3.2),("2008-06-14",4.8),("2008-06-20",3.7),
    ("2008-06-26",2.8),("2008-07-02",4.4),("2008-07-15",3.7),("2008-07-22",5.9),("2008-07-28",7.3),
    ("2008-08-03",6.8),("2008-08-12",8.4),("2008-08-22",6.1),("2008-08-29",4.8),("2008-09-03",7.0),
    ("2008-09-10",5.8),("2008-09-16",8.9),("2008-09-22",4.7),("2008-09-29",6.8),
]

no_2008_09 = [
    ("2008-10-22",7.4),("2008-10-25",6.1),("2008-10-19",4.7),("2008-10-28",3.8),("2008-10-22",2.7),
    ("2008-10-31",2.1),("2008-10-25",8.3),("2008-10-16",5.5),
    ("2008-11-12",9.4),("2008-11-25",8.8),("2008-11-06",7.4),("2008-11-19",6.5),("2008-11-03",5.6),
    ("2008-11-16",5.0),("2008-11-28",4.3),("2008-11-09",3.8),("2008-11-22",3.0),("2008-11-06",2.1),
    ("2008-11-25",1.6),
    ("2008-12-30",9.2),("2008-12-08",7.6),("2008-12-21",7.0),("2008-12-14",6.1),("2008-12-27",5.4),
    ("2008-12-05",4.7),("2008-12-18",4.1),("2008-12-24",3.4),("2008-12-11",2.7),("2008-12-30",2.1),
    ("2009-01-09",7.9),("2009-01-22",7.6),("2009-01-15",6.5),("2009-01-28",6.1),("2009-01-06",5.4),
    ("2009-01-19",4.7),("2009-01-25",4.3),("2009-01-12",3.4),("2009-01-31",3.0),("2009-01-22",2.5),
    ("2009-01-14",11.9),
    ("2009-02-26",16.8),("2009-02-26",15.1),("2009-02-04",8.1),("2009-02-13",7.4),("2009-02-22",6.7),
    ("2009-02-07",6.1),("2009-02-19",5.4),("2009-02-10",4.7),("2009-02-16",3.8),("2009-02-04",3.2),
    ("2009-02-22",2.5),("2009-02-13",1.6),("2009-03-02",12.5),
    ("2009-03-13",10.1),("2009-03-04",9.4),("2009-03-20",9.2),("2009-03-10",8.3),("2009-03-01",7.6),
    ("2009-03-23",7.4),("2009-03-07",6.5),("2009-03-17",5.6),("2009-03-26",5.0),("2009-03-04",4.3),
    ("2009-03-20",3.4),("2009-03-10",2.7),("2009-03-29",2.1),("2009-03-08",14.0),
    ("2009-04-04",7.6),("2009-04-14",7.0),("2009-04-23",6.3),("2009-04-08",5.6),("2009-04-17",5.0),
    ("2009-04-26",4.3),("2009-04-01",3.8),("2009-04-11",3.2),("2009-04-20",2.5),("2009-04-30",1.8),
    ("2009-05-25",9.6),("2009-05-31",9.2),("2009-05-18",8.5),("2009-05-28",8.1),("2009-05-09",7.4),
    ("2009-05-22",7.2),("2009-05-15",6.5),("2009-05-03",5.6),("2009-05-25",5.0),("2009-05-12",4.5),
    ("2009-05-06",3.8),("2009-05-18",3.2),("2009-05-28",2.5),
    ("2009-06-03",9.0),("2009-06-09",8.5),("2009-05-31",7.6),("2009-06-13",7.4),("2009-06-06",6.5),
    ("2009-06-03",5.6),("2009-06-09",5.0),("2009-06-16",6.1),("2009-06-06",1.6),("2009-06-11",9.6),
]

no_2009_11 = [
    ("2009-10-14",10.2),("2009-10-16",12.8),("2009-10-13",9.0),("2009-10-20",7.4),("2009-10-10",5.9),
    ("2009-10-26",4.7),("2009-10-16",3.4),("2009-10-10",1.8),("2009-10-29",2.5),("2009-10-23",4.0),
    ("2009-11-14",21.0),("2009-11-08",9.0),("2009-11-17",8.3),("2009-11-27",9.0),("2009-11-11",7.6),
    ("2009-11-23",7.4),("2009-11-04",6.5),("2009-11-20",6.1),("2009-11-30",5.4),("2009-11-08",4.7),
    ("2009-11-17",4.1),("2009-11-27",3.4),("2009-11-14",2.7),("2009-12-03",2.1),
    ("2009-12-12",9.0),("2009-12-22",8.8),("2009-12-06",7.0),("2009-12-16",6.3),("2009-12-28",5.6),
    ("2009-12-03",5.0),("2009-12-25",4.5),("2009-12-16",3.8),("2010-01-04",3.2),("2009-12-09",2.5),
    ("2009-12-28",1.8),("2009-12-20",12.7),
    ("2010-01-07",7.0),("2010-01-16",6.1),("2010-01-10",5.2),("2010-01-26",4.5),("2010-01-13",3.8),
    ("2010-01-29",3.2),("2010-01-19",2.7),("2010-01-07",2.1),("2010-01-29",1.6),("2010-01-22",11.2),
    ("2010-02-02",17.0),("2010-02-08",14.2),("2010-02-12",11.2),("2010-02-16",13.0),
    ("2010-03-08",3.8),("2010-03-14",3.2),("2010-03-02",2.5),("2010-03-21",2.3),("2010-03-11",1.8),
    ("2010-03-27",2.7),("2010-03-18",1.6),("2010-03-05",1.2),("2010-03-24",4.3),("2010-03-30",3.0),
    ("2010-04-05",5.6),("2010-04-18",5.0),("2010-04-08",4.3),("2010-04-24",3.8),("2010-04-02",3.2),
    ("2010-04-15",2.7),("2010-04-27",2.3),("2010-04-11",1.8),("2010-04-21",5.4),("2010-04-30",3.5),
    ("2010-05-04",5.2),("2010-05-10",4.7),("2010-05-22",4.1),("2010-05-07",3.4),("2010-05-16",3.0),
    ("2010-05-19",2.5),("2010-05-13",2.1),("2010-05-25",1.6),("2010-05-29",3.8),
    ("2010-06-17",9.0),("2010-06-23",8.5),("2010-06-04",7.4),("2010-06-20",7.0),("2010-06-13",6.3),
    ("2010-06-23",5.6),("2010-06-01",5.0),("2010-06-29",4.5),("2010-06-10",10.0),("2010-06-26",7.6),
    ("2010-07-12",10.5),("2010-07-24",7.4),("2010-07-06",6.8),("2010-07-18",6.1),("2010-07-27",5.2),
    ("2010-07-09",4.5),("2010-07-21",3.8),("2010-07-03",3.0),("2010-07-15",5.6),
    ("2010-08-22",14.6),("2010-08-25",13.2),("2010-08-09",8.3),("2010-08-18",7.4),("2010-08-06",6.5),
    ("2010-08-28",6.1),("2010-08-12",5.2),("2010-08-22",4.5),("2010-08-03",3.8),("2010-08-15",3.0),
    ("2010-08-31",8.0),
    ("2010-09-25",8.3),("2010-09-13",7.2),("2010-09-03",6.5),("2010-09-28",5.9),("2010-09-09",5.2),
    ("2010-09-19",4.5),("2010-10-02",3.8),("2010-09-16",3.2),("2010-09-06",2.5),("2010-09-22",9.8),
    ("2010-10-14",5.9),("2010-10-24",5.4),("2010-10-08",4.7),("2010-10-30",4.3),("2010-10-17",3.6),
    ("2010-10-11",3.0),("2010-10-27",2.5),("2010-10-20",2.1),("2010-11-02",3.2),("2010-10-22",11.0),
    ("2010-11-14",19.5),("2010-11-20",7.9),("2010-11-25",6.5),("2010-11-17",5.4),("2010-11-29",4.7),
    ("2010-11-23",4.1),("2010-12-01",3.4),("2010-11-20",2.7),("2010-11-27",9.5),
    ("2010-12-12",20.8),("2010-12-06",11.9),("2010-12-06",10.1),("2010-12-12",7.9),("2010-12-21",8.3),
    ("2010-12-18",6.5),("2010-12-30",5.6),("2010-12-09",5.0),("2010-12-25",4.3),("2010-12-15",3.4),
    ("2010-12-31",3.0),("2010-12-28",7.2),
    ("2011-01-13",7.9),("2011-01-06",7.0),("2011-01-16",5.6),("2011-01-10",4.7),("2011-01-19",4.1),
    ("2011-01-13",3.4),("2011-01-06",3.0),("2011-01-16",2.5),
    ("2010-03-13",2.2),("2010-03-20",1.5),("2010-03-28",2.0),("2010-04-12",2.1),("2010-04-20",3.1),
    ("2010-05-01",2.8),("2010-05-27",2.3),("2010-06-08",3.6),("2010-07-20",3.4),("2010-08-14",2.6),
    ("2010-09-11",3.9),("2010-10-05",2.8),("2010-10-28",1.9),
]

no_2011 = [
    ("2011-05-03",5.4),("2011-05-12",5.6),("2011-05-22",5.0),("2011-05-06",4.5),("2011-05-16",4.1),
    ("2011-05-09",3.4),("2011-05-25",3.2),("2011-05-03",2.7),("2011-05-19",2.3),("2011-05-12",1.8),
    ("2011-05-09",6.2),
    ("2011-06-04",4.5),("2011-06-20",5.2),("2011-06-10",3.8),("2011-05-31",3.2),("2011-06-16",3.0),
    ("2011-06-07",2.3),("2011-06-23",2.1),("2011-06-13",1.6),("2011-06-26",2.7),
    ("2011-07-02",2.0),("2011-07-06",1.6),
]

no_2012 = [
    ("2012-03-13",5.6),("2012-03-07",4.5),("2012-03-20",4.3),("2012-03-13",3.6),("2012-03-01",3.2),
    ("2012-03-26",3.0),("2012-03-07",2.5),("2012-03-16",2.1),("2012-03-23",1.6),("2012-03-10",3.0),
    ("2012-03-29",2.4),
    ("2012-04-10",28.7),("2012-04-20",7.9),("2012-04-07",5.2),("2012-04-17",4.5),("2012-04-26",4.1),
    ("2012-04-04",3.4),("2012-04-14",3.0),("2012-04-23",2.5),("2012-04-10",2.1),("2012-04-29",1.8),
    ("2012-04-01",2.5),
    ("2012-05-27",22.8),("2012-05-09",5.2),("2012-05-18",4.7),("2012-05-28",4.1),("2012-05-06",3.4),
    ("2012-05-15",3.0),("2012-05-25",2.5),("2012-05-03",2.1),("2012-05-22",1.6),("2012-05-12",2.8),
    ("2012-06-10",11.4),("2012-06-06",5.9),("2012-06-16",5.4),("2012-06-29",4.7),("2012-06-03",4.3),
    ("2012-06-13",3.6),("2012-06-25",3.2),("2012-06-19",2.5),("2012-07-02",2.3),("2012-06-10",1.8),
    ("2012-06-22",6.8),
    ("2012-07-18",16.4),("2012-07-30",10.8),("2012-07-24",9.9),("2012-07-14",7.4),("2012-07-27",6.5),
    ("2012-07-05",5.6),("2012-07-21",4.7),("2012-08-02",4.1),("2012-07-11",3.4),("2012-07-24",2.7),
    ("2012-07-08",2.1),
    ("2012-08-05",9.0),("2012-08-09",8.3),("2012-08-18",6.5),("2012-08-31",5.6),("2012-08-12",5.0),
    ("2012-08-24",4.5),("2012-08-05",3.8),("2012-08-21",3.2),("2012-09-03",2.7),("2012-08-15",2.1),
    ("2012-09-25",24.9),("2012-09-12",6.5),("2012-09-22",5.6),("2012-10-01",5.0),("2012-09-06",4.5),
    ("2012-09-16",3.8),("2012-09-28",3.2),("2012-09-09",2.7),("2012-09-19",2.1),("2012-09-14",9.5),
    ("2012-09-26",8.8),
    ("2012-10-08",3.8),("2012-10-17",3.2),("2012-10-27",2.7),("2012-10-11",2.3),("2012-10-21",1.8),
    ("2012-10-30",1.6),("2012-10-27",3.0),("2012-10-14",1.4),
    ("2012-11-02",9.4),("2012-11-08",9.0),("2012-11-27",6.1),("2012-11-14",5.4),("2012-11-30",4.7),
    ("2012-11-05",4.1),("2012-11-24",3.4),("2012-11-18",2.7),("2012-11-08",2.1),("2012-12-03",5.6),
    ("2012-11-22",7.9),
    ("2012-12-06",6.3),("2012-12-17",4.1),("2012-12-04",3.4),("2012-12-21",2.9),("2012-12-10",2.2),
    ("2012-12-13",1.7),("2012-12-06",2.7),("2012-12-19",3.6),
    ("2012-03-04",1.9),("2012-03-18",2.8),("2012-04-03",1.7),("2012-04-19",3.6),("2012-05-01",2.6),
    ("2012-05-20",3.5),("2012-06-01",2.9),("2012-06-26",2.0),("2012-07-16",3.0),("2012-08-27",3.9),
    ("2012-09-02",2.6),("2012-10-04",2.1),("2012-10-24",2.5),("2012-11-11",3.0),("2012-12-01",2.4),
    ("2012-12-12",3.1),
]

no_2013_15 = [
    ("2013-10-07",11.9),("2013-10-01",3.4),("2013-10-07",3.0),("2013-10-17",2.5),("2013-10-04",2.1),
    ("2013-10-11",1.6),("2013-10-23",1.8),("2013-10-04",1.4),("2013-10-14",1.2),("2013-10-26",1.4),
    ("2013-10-20",0.9),("2013-10-30",1.2),
    ("2013-11-14",7.9),("2013-11-11",4.5),("2013-11-24",3.0),("2013-11-05",2.1),("2013-11-18",1.6),
    ("2013-11-30",1.4),("2013-11-08",1.2),("2013-11-21",0.9),("2013-11-27",0.7),("2013-11-02",1.5),
    ("2013-12-03",34.9),("2013-12-12",25.7),("2013-12-13",3.8),("2013-12-25",3.2),("2013-12-06",2.5),
    ("2013-12-19",2.1),("2013-12-31",1.8),("2013-12-10",1.4),("2013-12-29",1.2),("2013-12-16",3.0),
    ("2013-12-22",2.6),("2013-12-03",1.7),
    ("2014-01-20",3.8),("2014-01-10",3.2),("2014-01-26",2.7),("2014-01-14",2.3),("2014-01-30",2.1),
    ("2014-01-07",1.6),("2014-01-23",1.4),("2014-01-17",0.9),("2014-02-02",3.4),("2014-01-04",2.8),
    ("2014-03-02",5.4),("2014-02-11",4.3),("2014-02-21",3.6),("2014-02-08",3.0),("2014-02-27",2.7),
    ("2014-02-14",2.3),("2014-02-24",1.8),("2014-02-05",2.5),("2014-02-18",1.5),
    ("2014-03-11",17.3),("2014-03-12",3.8),("2014-03-21",3.2),("2014-03-31",2.7),("2014-03-15",2.3),
    ("2014-03-27",1.8),("2014-03-18",3.0),("2014-04-03",3.4),("2014-03-09",2.1),("2014-03-24",5.0),
    ("2014-04-12",6.0),("2014-04-15",3.8),("2014-04-25",3.2),("2014-04-09",2.7),("2014-04-22",2.3),
    ("2014-05-01",3.0),("2014-04-19",1.8),("2014-04-28",4.3),("2014-04-06",2.0),
    ("2014-05-19",6.5),("2014-05-11",3.8),("2014-05-20",3.2),("2014-05-30",2.7),("2014-05-08",2.3),
    ("2014-05-24",2.1),("2014-05-14",1.6),("2014-06-02",3.4),("2014-05-04",2.6),
    ("2014-06-08",3.8),("2014-06-18",3.2),("2014-06-27",2.7),("2014-06-12",2.3),("2014-06-24",1.8),
    ("2014-07-04",3.0),("2014-06-15",1.6),("2014-07-01",3.4),("2014-06-04",2.5),("2014-06-21",4.2),
    ("2014-07-10",5.6),("2014-07-14",4.7),("2014-07-23",4.1),("2014-07-07",3.4),("2014-07-30",3.0),
    ("2014-07-17",2.5),("2014-07-26",2.1),("2014-07-10",1.6),("2014-07-20",6.2),
    ("2014-08-27",6.5),("2014-08-17",5.0),("2014-09-02",4.5),("2014-08-08",3.8),("2014-08-24",3.4),
    ("2014-08-14",2.7),("2014-08-30",2.3),("2014-08-11",1.8),("2014-08-27",9.0),("2014-08-20",7.2),
    ("2014-09-11",12.3),("2014-08-27",10.8),("2014-09-05",7.9),("2014-09-08",5.4),("2014-09-18",6.5),
    ("2014-09-24",5.2),("2014-09-14",4.3),("2014-09-08",3.6),("2014-09-27",3.2),("2014-09-21",2.5),
    ("2014-09-30",2.1),("2014-09-15",8.8),
    ("2014-11-06",3.8),("2014-11-13",3.2),("2014-11-19",2.7),("2014-11-09",2.3),("2014-11-22",1.8),
    ("2014-11-16",1.6),("2014-11-25",4.3),("2014-11-28",3.0),
    ("2014-12-08",4.3),("2014-12-14",4.5),("2014-12-27",4.3),("2014-12-05",3.4),("2014-12-21",3.2),
    ("2014-12-11",2.7),("2014-12-30",3.0),("2014-12-17",2.1),("2014-12-24",3.6),
    ("2013-10-09",1.0),("2013-10-13",1.8),("2013-10-19",1.3),("2013-10-25",0.8),("2013-10-28",2.0),
    ("2013-11-04",1.0),("2013-11-10",1.9),("2013-11-16",1.1),("2013-11-20",2.3),("2013-11-26",1.3),
    ("2013-12-05",1.0),("2013-12-08",2.0),("2013-12-18",1.5),("2013-12-27",2.4),("2014-01-02",1.2),
    ("2014-01-12",1.9),("2014-01-19",2.6),("2014-01-28",1.3),
    ("2014-02-04",3.3),("2014-02-16",2.0),("2014-02-25",3.9),("2014-03-05",2.6),("2014-03-16",4.1),
    ("2014-03-29",2.4),("2014-04-04",3.5),("2014-04-17",2.6),("2014-04-30",2.0),("2014-05-06",3.1),
    ("2014-05-16",4.0),("2014-05-27",2.4),("2014-06-06",3.0),("2014-06-14",4.0),("2014-06-29",2.1),
    ("2014-07-05",2.7),("2014-07-19",3.6),("2014-07-28",2.3),("2014-08-06",2.4),("2014-08-19",4.0),
    ("2014-08-31",3.1),("2014-09-03",4.1),("2014-09-12",2.9),("2014-09-26",4.8),
]

#%% collect
no2_pts = no2_2006_08 + no2_2008_09 + no2_2009_11 + no2_2011 + no2_2012 + no2_2013_15
no_pts = no_2006_08 + no_2008_09 + no_2009_11 + no_2011 + no_2012 + no_2013_15

no2_dates = pd.to_datetime([d for d, v in no2_pts])
no2_vals = [v for d, v in no2_pts]
no_dates = pd.to_datetime([d for d, v in no_pts])
no_vals = [v for d, v in no_pts]

#%% plot
fig = plt.figure(figsize=(18.58, 7.64), dpi=100)
ax = fig.add_axes([0.0445, 0.0563, 0.9539, 0.9185])

ax.scatter(no_dates, no_vals, s=26, c='coral', edgecolors='none', zorder=2)
ax.scatter(no2_dates, no2_vals, s=26, c='cornflowerblue', edgecolors='none', zorder=2)
ax.plot(months, no2_monthly, color='darkblue', lw=1.6, zorder=3)
ax.plot(months, no_monthly, color='red', lw=1.1, zorder=3)

ax.set_xlim(pd.Timestamp('2006-05-02'), pd.Timestamp('2015-07-04'))
ax.set_ylim(0, 70)
ax.set_yticks(range(0, 71, 10))
ax.xaxis.set_major_locator(mdates.YearLocator())
ax.xaxis.set_major_formatter(mdates.DateFormatter('%Y'))
ax.tick_params(direction='in', top=True, right=True, length=4, width=0.6, labelsize=12, pad=5)
for lab in ax.get_xticklabels():
    lab.set_rotation(30)
    lab.set_ha('right')
for sp in ax.spines.values():
    sp.set_linewidth(1.0)
ax.set_ylabel('pptV', fontsize=12, labelpad=10)

handles = [Line2D([], [], color='#3a3acc', lw=2.5, dashes=(2.9, 1.45)),
           Line2D([], [], color='red', lw=2.5, dashes=(2.9, 1.45))]
plt.rcParams['mathtext.default'] = 'regular'
leg = fig.legend(handles, ['NO$_2$', 'NO'], loc='upper left', bbox_to_anchor=(0.444, 0.937),
                 frameon=False, borderpad=0, borderaxespad=0, handlelength=0.9,
                 handletextpad=0.35, labelspacing=0.15,
                 prop={'family': 'Liberation Sans', 'size': 33})

fig.savefig('out.png', dpi=100, facecolor='white')
